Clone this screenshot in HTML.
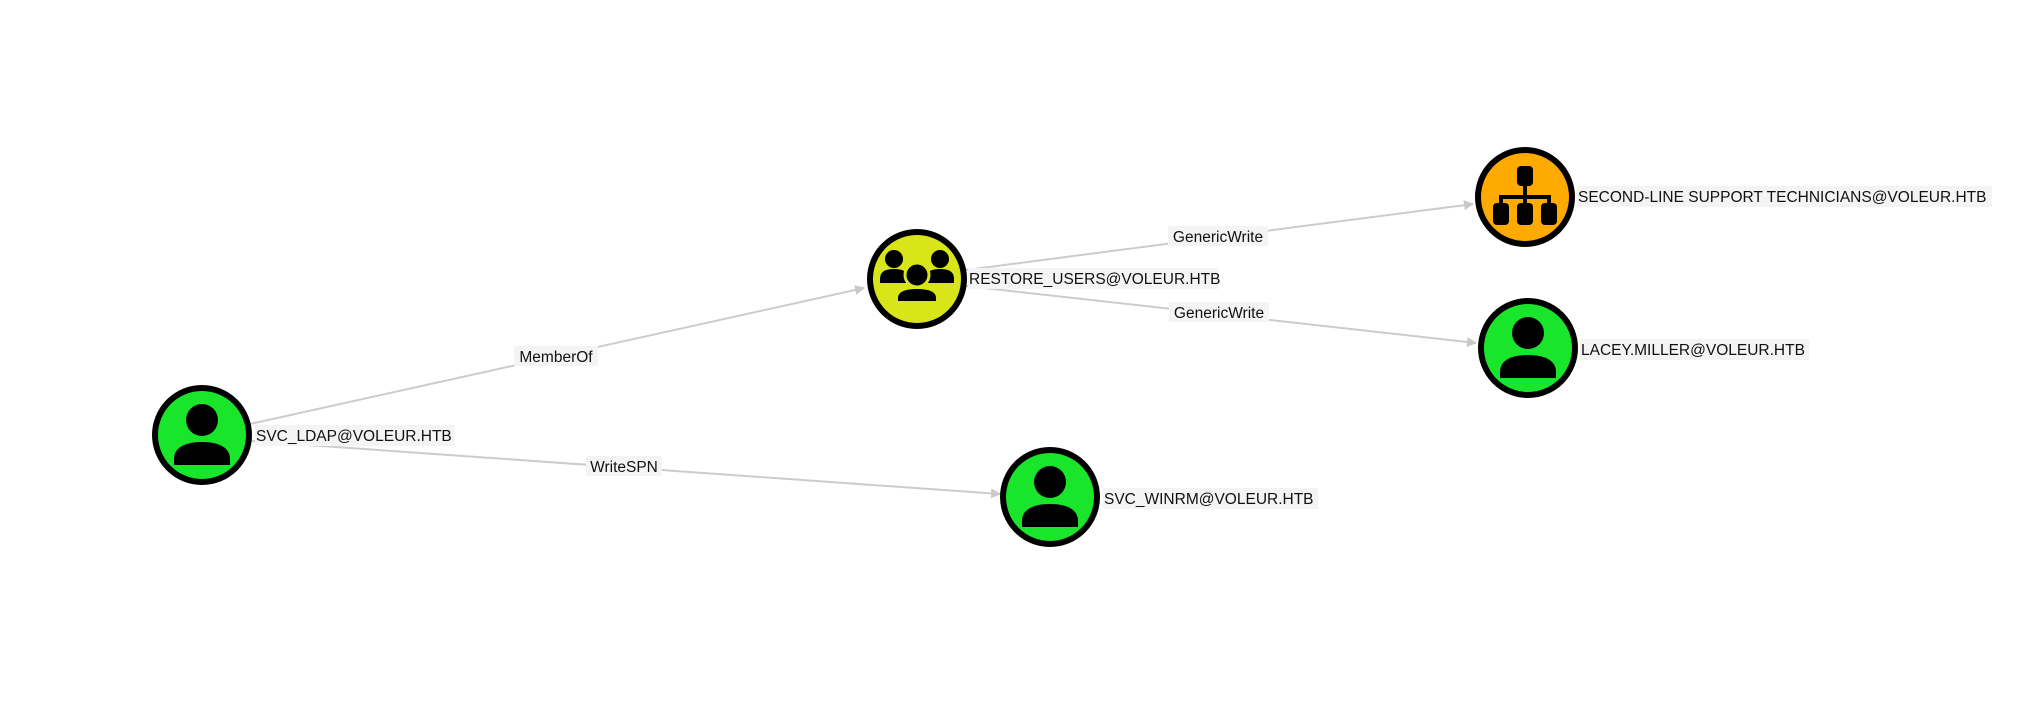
<!DOCTYPE html>
<html><head><meta charset="utf-8"><style>
html,body{margin:0;padding:0;background:#fff;}
svg{display:block;}
text{font-family:"Liberation Sans",sans-serif;font-size:15.5px;fill:#111;}
</style></head><body>
<svg width="2036" height="707" viewBox="0 0 2036 707" xmlns="http://www.w3.org/2000/svg">
<defs>
<marker id="ar" markerWidth="10" markerHeight="10" refX="9" refY="5" orient="auto" markerUnits="userSpaceOnUse">
<path d="M0,0 L10,5 L0,10 z" fill="#c8c8c8"/>
</marker>
<g id="user">
<circle cx="0" cy="-15" r="16" fill="#000"/>
<path d="M-28,30 L-28,24 C-28,12 -16,7 0,7 C16,7 28,12 28,24 L28,30 Z" fill="#000"/>
</g>
</defs>
<g stroke="#cccccc" stroke-width="2" fill="none">
<line x1="250" y1="424" x2="864" y2="288" marker-end="url(#ar)"/>
<line x1="251" y1="441" x2="1000" y2="494" marker-end="url(#ar)"/>
<line x1="966" y1="270" x2="1473" y2="204" marker-end="url(#ar)"/>
<line x1="966" y1="286" x2="1476" y2="343" marker-end="url(#ar)"/>
</g>
<rect x="514" y="346" width="84" height="20" fill="#f4f4f4"/><text x="556" y="362" text-anchor="middle">MemberOf</text>
<rect x="586" y="456" width="76" height="20" fill="#f4f4f4"/><text x="624" y="472" text-anchor="middle">WriteSPN</text>
<rect x="1168" y="226" width="100" height="20" fill="#f4f4f4"/><text x="1218" y="242" text-anchor="middle">GenericWrite</text>
<rect x="1169" y="302" width="100" height="20" fill="#f4f4f4"/><text x="1219" y="318" text-anchor="middle">GenericWrite</text>
<g transform="translate(202,435)"><circle r="47" fill="#19e62a" stroke="#000" stroke-width="6"/><use href="#user"/></g>
<g transform="translate(1050,497)"><circle r="47" fill="#19e62a" stroke="#000" stroke-width="6"/><use href="#user"/></g>
<g transform="translate(1528,348)"><circle r="47" fill="#19e62a" stroke="#000" stroke-width="6"/><use href="#user"/></g>
<g transform="translate(917,279)"><circle r="47" fill="#d8e619" stroke="#000" stroke-width="6"/>
<circle cx="-23" cy="-20" r="9" fill="#000"/><circle cx="23" cy="-20" r="9" fill="#000"/>
<path d="M-37,4 L-37,0 C-37,-8 -31,-10 -23,-10 C-15,-10 -9,-8 -9,0 L-9,4 Z" fill="#000"/>
<path d="M9,4 L9,0 C9,-8 15,-10 23,-10 C31,-10 37,-8 37,0 L37,4 Z" fill="#000"/>
<circle cx="0" cy="-4" r="12" fill="#000" stroke="#d8e619" stroke-width="3"/>
<path d="M-20,23 L-20,19 C-20,11 -10,9 0,9 C10,9 20,11 20,19 L20,23 Z" fill="#000" stroke="#d8e619" stroke-width="2"/>
</g>
<g transform="translate(1525,197)"><circle r="47" fill="#ffaa00" stroke="#000" stroke-width="6"/>
<rect x="-8" y="-31" width="16" height="20" rx="4" fill="#000"/>
<path d="M0,-12 V0 M-24,8 V0 H24 V8 M0,0 V8" stroke="#000" stroke-width="4" fill="none"/>
<rect x="-32" y="6" width="16" height="22" rx="4" fill="#000"/>
<rect x="-8" y="6" width="16" height="22" rx="4" fill="#000"/>
<rect x="16" y="6" width="16" height="22" rx="4" fill="#000"/>
</g>
<rect x="255" y="425" width="200" height="21" fill="#f4f4f4"/><text x="256" y="441">SVC_LDAP@VOLEUR.HTB</text>
<rect x="968" y="268" width="250" height="21" fill="#f4f4f4"/><text x="969" y="284">RESTORE_USERS@VOLEUR.HTB</text>
<rect x="1577" y="186" width="415" height="21" fill="#f4f4f4"/><text x="1578" y="202">SECOND-LINE SUPPORT TECHNICIANS@VOLEUR.HTB</text>
<rect x="1580" y="339" width="229" height="21" fill="#f4f4f4"/><text x="1581" y="355">LACEY.MILLER@VOLEUR.HTB</text>
<rect x="1103" y="488" width="215" height="21" fill="#f4f4f4"/><text x="1104" y="504">SVC_WINRM@VOLEUR.HTB</text>
</svg>
</body></html>
